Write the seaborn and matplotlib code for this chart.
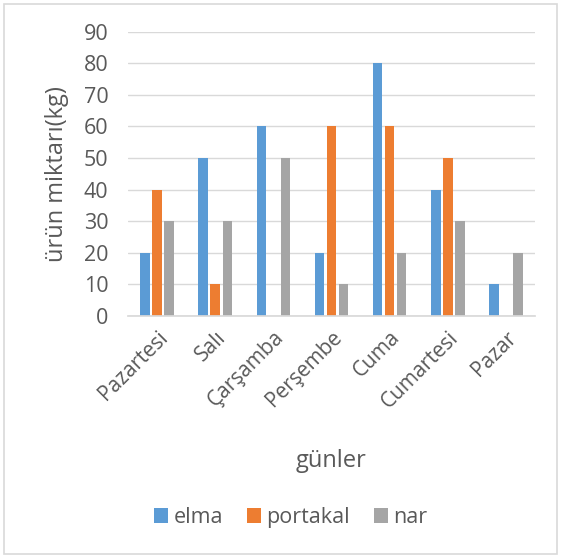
import pandas as pd
import seaborn as sns
import matplotlib.pyplot as plt
from matplotlib.patches import Rectangle

days = ["Pazartesi", "Salı", "Çarşamba", "Perşembe", "Cuma", "Cumartesi", "Pazar"]
elma = [20, 50, 60, 20, 80, 40, 10]
portakal = [40, 10, 0, 60, 60, 50, 0]
nar = [30, 30, 50, 10, 20, 30, 20]

df = pd.DataFrame({"gün": days, "elma": elma, "portakal": portakal, "nar": nar})
df = df.melt(id_vars="gün", var_name="meyve", value_name="miktar")

sns.set_theme(style="white")
plt.rcParams["font.family"] = ["Open Sans", "DejaVu Sans"]
TXT = "#595959"

fig = plt.figure(figsize=(5.61, 5.58), dpi=100)
ax = fig.add_axes([0.228, 0.434, 0.726, 0.509])

sns.barplot(data=df, x="gün", y="miktar", hue="meyve",
            palette=["#5B9BD5", "#ED7D31", "#A5A5A5"],
            width=0.62, gap=0.22, ax=ax, saturation=1, linewidth=0)

ax.set_ylim(0, 90)
ax.set_yticks(range(0, 91, 10))
ax.yaxis.grid(True, color="#D9D9D9", linewidth=1)
ax.set_axisbelow(True)
for s in ["top", "right", "left"]:
    ax.spines[s].set_visible(False)
ax.spines["bottom"].set_color("#D9D9D9")
ax.tick_params(axis="y", length=0, labelsize=15.5, colors=TXT, pad=14)
ax.tick_params(axis="x", length=0, labelsize=15, colors=TXT, pad=8)
plt.setp(ax.get_xticklabels(), rotation=45, ha="right", rotation_mode="anchor")
ax.set_xlabel("günler", fontsize=17, color=TXT)
ax.xaxis.set_label_coords(0.5, -0.47)
ax.set_ylabel("ürün miktarı(kg)", fontsize=17, color=TXT)
ax.yaxis.set_label_coords(-0.145, 0.5)

ax.legend(loc="center", bbox_to_anchor=(0.40, -0.71), ncol=3, frameon=False,
          fontsize=15.5, labelcolor=TXT, handlelength=0.65, handleheight=0.65,
          handletextpad=0.25, columnspacing=1.1)

fig.patches.append(Rectangle((0.008, 0.008), 0.984, 0.984, transform=fig.transFigure,
                             fill=False, edgecolor="#D9D9D9", linewidth=1.2))

fig.savefig("out.png", dpi=100, facecolor="white")
